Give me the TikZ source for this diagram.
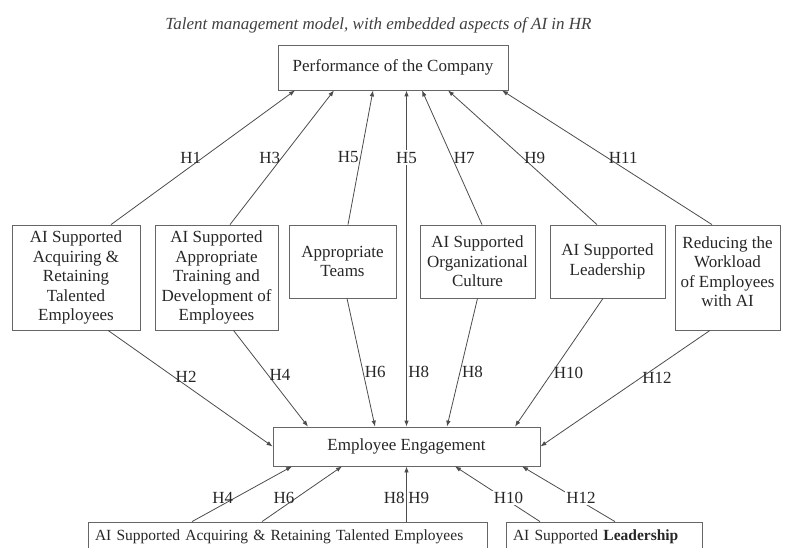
\documentclass[tikz,border=0pt]{standalone}
\usepackage{fontspec}
\setmainfont{Liberation Serif}
\usetikzlibrary{arrows.meta}

\tikzset{
  box/.style={draw=black!60, line width=0.8pt, align=center, inner sep=0pt,
              font=\fontsize{17}{19.5}\selectfont, text=black!85},
  wide/.style={draw=black!60, line width=0.8pt, align=left, inner xsep=7pt,
               inner ysep=0pt, font=\fontsize{15.5}{19.5}\selectfont, text=black!85},
  hyp/.style={font=\fontsize{17}{19}\selectfont, inner sep=1.5pt, text=black!85},
  link/.style={draw=black!70, line width=0.8pt},
  >={Latex[length=6pt,width=4.5pt]}
}

\begin{document}
\begin{tikzpicture}[x=1pt, y=-1pt]
\useasboundingbox (0,0) rectangle (787,548);

\node[font=\fontsize{17}{18}\selectfont\itshape, text=black!75] (title) at (378.5,25)
  {Talent management model, with embedded aspects of AI in HR};

\node[box, minimum width=230pt, minimum height=45pt] (perf) at (393,67.5) {Performance of the Company};

% middle row
\node[box, minimum width=128pt, minimum height=105pt] (acq)     at (76,277.5)  {AI Supported\\Acquiring \&\\Retaining\\Talented\\Employees};
\node[box, minimum width=123pt, minimum height=105pt] (train)   at (216.5,277.5) {AI Supported\\Appropriate\\Training and\\Development of\\Employees};
\node[box, minimum width=107pt, minimum height=73pt]  (teams)   at (342.5,261.5) {Appropriate\\Teams};
\node[box, minimum width=115pt, minimum height=73pt]  (culture) at (477.5,261.5) {AI Supported\\Organizational\\Culture};
\node[box, minimum width=115pt, minimum height=73pt]  (lead)    at (607.5,261.5) {AI Supported\\Leadership};
\node[box, minimum width=105pt, minimum height=105pt] (reduce)  at (727.5,277.5) {Reducing the\\Workload\\of Employees\\with AI\\[-8pt]};

\node[box, minimum width=267pt, minimum height=39pt] (engage) at (406.5,446.5) {Employee Engagement};

% bottom row
\node[wide, text width=385pt, minimum height=30pt] (bacq)  at (287.5,537) {AI Supported Acquiring \& Retaining Talented Employees};
\node[wide, text width=182pt, minimum height=30pt] (blead) at (604,537) {AI Supported \textbf{Leadership}};

% to the company
\draw[link,->] ([xshift=35]acq.north)     -- ([xshift=-98]perf.south) node[hyp,pos=.5,anchor=east] {H1};
\draw[link,->] ([xshift=13.5]train.north) -- ([xshift=-59]perf.south) node[hyp,pos=.5,anchor=east] {H3};
\draw[link,->] ([xshift=5.5]teams.north)  -- ([xshift=-20]perf.south) node[hyp,pos=.5,anchor=east] {H5};
\draw[link,->] ([xshift=4.5]culture.north) -- ([xshift=29]perf.south) node[hyp,pos=.5,anchor=west] {H7};
\draw[link,->] ([xshift=-10.5]lead.north) -- ([xshift=55]perf.south) node[hyp,pos=.5,anchor=west] {H9};
\draw[link,->] ([xshift=-15.5]reduce.north) -- ([xshift=109]perf.south) node[hyp,pos=.5,anchor=west] {H11};
\draw[link,<->] (engage.north) -- (engage.north |- perf.south)
  node[hyp,pos=.8,fill=white] {H5}
  node[hyp,pos=.163,anchor=west] {H8};

% to engagement
\draw[link,->] ([xshift=32]acq.south)       -- (engage.west) node[hyp,pos=.4,anchor=west] {H2};
\draw[link,->] ([xshift=17]train.south)     -- ([xshift=-98.5]engage.north) node[hyp,pos=.46,anchor=west] {H4};
\draw[link,->] ([xshift=4.5]teams.south)    -- ([xshift=-31.5]engage.north) node[hyp,pos=.57,anchor=west] {H6};
\draw[link,->] (culture.south)              -- ([xshift=40.5]engage.north) node[hyp,pos=.57,anchor=west] {H8};
\draw[link,->] ([xshift=-4.5]lead.south)    -- ([xshift=108.5]engage.north) node[hyp,pos=.58,anchor=west] {H10};
\draw[link,->] ([xshift=-17.5]reduce.south) -- (engage.east) node[hyp,pos=.41,anchor=west] {H12};

% from the bottom row
\draw[link,->] ([xshift=-95.5]bacq.north) -- ([xshift=-114.5]engage.south) node[hyp,pos=.43,anchor=east] {H4};
\draw[link,->] ([xshift=-25.5]bacq.north) -- ([xshift=-64.5]engage.south) node[hyp,pos=.43,anchor=east] {H6};
\draw[link,->] (bacq.north -| engage.south) -- (engage.south)
  node[hyp,pos=.43,anchor=east] {H8}
  node[hyp,pos=.43,anchor=west] {H9};
\draw[link,->] ([xshift=-64]blead.north) -- ([xshift=48.5]engage.south) node[hyp,pos=.43,fill=white,xshift=5] {H10};
\draw[link,->] ([xshift=11]blead.north)  -- ([xshift=115.5]engage.south) node[hyp,pos=.43,fill=white,xshift=6] {H12};
\end{tikzpicture}
\end{document}
